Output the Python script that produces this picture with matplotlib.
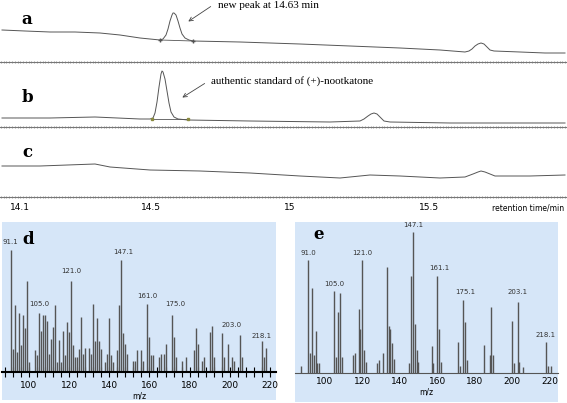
import numpy as np
import matplotlib
matplotlib.use("Agg")
import matplotlib.pyplot as plt
from matplotlib.ticker import MultipleLocator

W, H = 567, 403
PX_PER_MIN = 278.0
T0 = 13.957

# chromatogram traces: (pixel-x, height) knots
a_px = [2, 25, 50, 75, 100, 120, 140, 160, 163, 166, 168, 170, 172, 173, 174, 176, 178, 180, 182, 185, 189, 193,
        240, 300, 350, 400, 440, 465, 469, 472, 475, 478, 481, 484, 487, 490, 494, 520, 545, 565]
a_h = [32, 31, 30, 30, 29, 27, 24, 22, 23, 27, 33, 41, 47, 49, 49, 47, 41, 34, 28, 24, 22, 21,
       20, 18, 16, 14, 12, 10, 11, 13, 16, 18, 19, 18, 15, 12, 11, 10, 9, 9]
b_px = [2, 50, 95, 140, 150, 153, 155, 157, 159, 161, 162, 163, 165, 167, 169, 171, 174, 178, 188, 250, 330,
        360, 364, 368, 371, 374, 377, 380, 384, 390, 450, 565]
b_h = [9, 9, 10, 8, 8, 9, 14, 25, 40, 53, 56, 55, 48, 36, 24, 15, 10, 8, 7, 6, 5,
       6, 8, 11, 13, 14, 13, 10, 6, 5, 4, 4]
c_px = [2, 40, 95, 110, 150, 200, 250, 300, 340, 370, 400, 440, 465, 473, 478, 481, 485, 490, 495, 530, 565]
c_h = [31, 31, 33, 30, 27, 26, 24, 21, 19, 22, 21, 19, 20, 23, 25, 26, 25, 23, 21, 21, 22]
rt_ticks = [14.03, 14.5, 15.0, 15.5]
rt_labels = ["14.1", "14.5", "15", "15.5"]

# mass spectrum d
d_mz = [91, 92, 93, 94, 95, 96, 97, 98, 99, 100, 103, 104, 105, 106, 107, 108, 109, 110, 111, 112, 113, 114, 115, 116,
        117, 118, 119, 120, 121, 122, 123, 124, 125, 126, 127, 128, 130, 131, 132, 133, 134, 135, 136, 138, 139, 140,
        141, 142, 144, 145, 146, 147, 148, 149, 152, 153, 154, 156, 157, 159, 160, 161, 162, 165, 166, 167, 168, 171,
        172, 173, 176, 178, 182, 183, 184, 186, 187, 190, 191, 192, 196, 197, 199, 201, 202, 205, 206, 216, 217, 218]
d_int = [100, 19, 55, 16, 48, 22, 47, 36, 75, 8, 18, 14, 48, 34, 47, 47, 42, 15, 27, 37, 55, 8, 26, 8,
         34, 14, 41, 33, 75, 22, 12, 12, 19, 45, 15, 20, 20, 15, 56, 25, 44, 25, 19, 8, 15, 44,
         14, 8, 18, 55, 92, 32, 23, 15, 9, 9, 18, 18, 9, 56, 29, 14, 14, 12, 15, 15, 23, 47,
         29, 12, 9, 12, 18, 36, 23, 9, 12, 33, 38, 12, 32, 12, 23, 12, 9, 30, 12, 25, 12, 20]
d_lab_mz = [91, 105, 121, 147, 159, 173, 201, 216]
d_lab_y = [104, 53, 80, 96, 60, 53, 36, 27]
d_labels = ["91.1", "105.0", "121.0", "147.1", "161.0", "175.0", "203.0", "218.1"]

# mass spectrum e
e_mz = [87, 91, 92, 93, 94, 95, 96, 97, 105, 106, 107, 108, 109, 115, 116, 118, 119, 120, 121, 122, 128, 129, 131, 133,
        134, 135, 136, 137, 145, 146, 147, 148, 149, 150, 157, 158, 160, 161, 162, 171, 172, 174, 175, 176, 185, 188,
        189, 190, 200, 201, 203, 204, 206, 218, 219, 221]
e_int = [5, 80, 14, 60, 13, 30, 7, 7, 58, 11, 43, 57, 11, 13, 14, 45, 31, 80, 16, 8, 7, 9, 14, 75,
         33, 31, 21, 10, 7, 69, 100, 35, 16, 8, 19, 7, 69, 31, 8, 22, 5, 52, 36, 9, 20, 13,
         47, 13, 37, 7, 50, 8, 4, 22, 5, 5]
e_lab_mz = [91, 105, 120, 147, 161, 175, 203, 218]
e_lab_y = [83, 61, 83, 103, 72, 55, 55, 25]
e_labels = ["91.0", "105.0", "121.0", "147.1", "161.1", "175.1", "203.1", "218.1"]

fig = plt.figure(figsize=(W / 100, H / 100), dpi=100)
fig.patch.set_facecolor("white")


def px2t(p):
    return T0 + np.asarray(p) / PX_PER_MIN


def chrom_ax(top, bottom):
    ax = fig.add_axes([0, 1 - bottom / H, 1, (bottom - top) / H])
    ax.set_xlim(T0, T0 + W / PX_PER_MIN)
    ax.set_ylim(0, bottom - top)
    for s in ["top", "left", "right"]:
        ax.spines[s].set_visible(False)
    ax.spines["bottom"].set_color("#777777")
    ax.spines["bottom"].set_linewidth(0.8)
    ax.set_yticks([])
    ax.xaxis.set_minor_locator(MultipleLocator(0.01))
    ax.tick_params(axis="x", which="both", direction="inout", length=2, width=0.5, colors="#777777")
    ax.set_xticks(rt_ticks)
    ax.set_xticklabels([])
    ax.patch.set_alpha(0)
    return ax


axa = chrom_ax(0, 62)
axa.plot(px2t(a_px), a_h, color="#555555", lw=0.7)
axa.plot(px2t([160, 193]), [22, 21], color="#555555", lw=0.6, marker="+", ms=3)
axb = chrom_ax(62, 127)
axb.plot(px2t(b_px), b_h, color="#555555", lw=0.7)
axb.plot(px2t([152, 188]), [8, 8], color="#555555", lw=0.6, marker="s", ms=1.5, mfc="#8a8a40", mec="#8a8a40")
axc = chrom_ax(127, 197)
axc.plot(px2t(c_px), c_h, color="#555555", lw=0.7)
axc.set_xticklabels(rt_labels, fontsize=6.5, color="black")
axc.tick_params(axis="x", which="major", pad=3, labelcolor="black")
fig.text(528 / W, 1 - 208 / H, "retention time/min", fontsize=5.5, ha="center", va="center")

for lab, x, y in [("a", 27, 20), ("b", 27, 98), ("c", 27, 153)]:
    fig.text(x / W, 1 - y / H, lab, fontsize=12, fontweight="bold", family="DejaVu Serif", ha="center", va="center")

fig.text(218 / W, 1 - 6 / H, "new peak at 14.63 min", fontsize=8, family="Liberation Serif", va="center")
fig.text(211 / W, 1 - 81 / H, "authentic standard of (+)-nootkatone", fontsize=8, family="Liberation Serif", va="center")
fig.add_artist(matplotlib.patches.FancyArrowPatch((213 / W, 1 - 5 / H), (186 / W, 1 - 23 / H),
                                                  transform=fig.transFigure, arrowstyle="->", mutation_scale=7,
                                                  color="#444444", lw=0.6))
fig.add_artist(matplotlib.patches.FancyArrowPatch((207 / W, 1 - 82 / H), (180 / W, 1 - 99 / H),
                                                  transform=fig.transFigure, arrowstyle="->", mutation_scale=7,
                                                  color="#444444", lw=0.6))


def spec_ax(rect, xlim, ylim, mz, inten, lmz, ly, labs, letter, lpos, ticks_on):
    ax = fig.add_axes(rect)
    ax.set_facecolor("#d6e6f8")
    ax.set_xlim(*xlim)
    ax.set_ylim(*ylim)
    ax.vlines(mz, 0, inten, color="#555555", lw=1.0)
    for m, y, t in zip(lmz, ly, labs):
        ax.text(m, y, t, fontsize=5, ha="center", va="bottom", color="#333333")
    for s in ["top", "left", "right"]:
        ax.spines[s].set_visible(False)
    ax.spines["bottom"].set_position(("data", 0))
    ax.set_yticks([])
    ax.xaxis.set_major_locator(MultipleLocator(20))
    if ticks_on:
        ax.spines["bottom"].set_linewidth(1.5)
        ax.xaxis.set_minor_locator(MultipleLocator(4))
        ax.tick_params(axis="x", which="both", direction="inout", length=7, width=0.8)
    else:
        ax.spines["bottom"].set_linewidth(0.8)
        ax.spines["bottom"].set_color("#555555")
        ax.tick_params(axis="x", which="both", length=0)
    ax.tick_params(axis="x", labelsize=6.5, pad=3)
    ax.set_xlabel("m/z", fontsize=5.5, labelpad=1)
    ax.text(lpos[0], lpos[1], letter, transform=ax.transAxes, fontsize=12, fontweight="bold",
            family="DejaVu Serif", ha="center", va="center")
    return ax


spec_ax([2 / W, 3 / H, 274 / W, 178 / H], (86.6, 223), (-23, 123), d_mz, d_int, d_lab_mz, d_lab_y, d_labels,
        "d", (0.095, 0.9), True)
spec_ax([295 / W, 1 / H, 263 / W, 180 / H], (84, 224.6), (-20.6, 107), e_mz, e_int, e_lab_mz, e_lab_y, e_labels,
        "e", (0.09, 0.93), False)

fig.savefig("out.png", dpi=100)
